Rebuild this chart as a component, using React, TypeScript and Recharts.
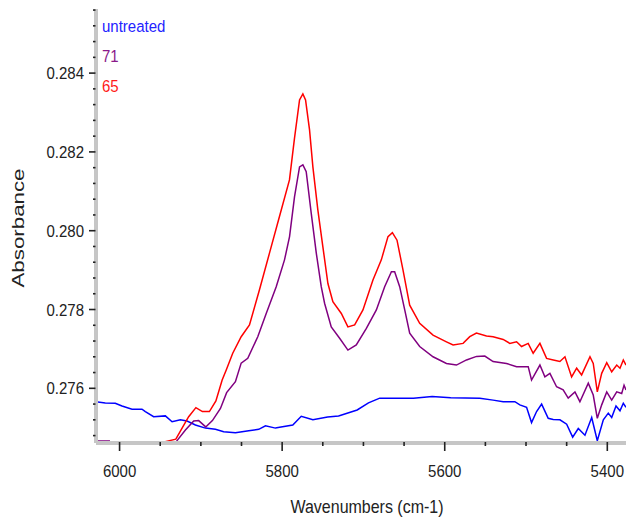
import { LineChart, Line, XAxis, YAxis, Legend } from 'recharts';

// [wavenumber (cm-1), absorbance]
const untreated: [number, number][] = [
  [6029, 0.27566], [6017.6, 0.27563], [6005.3, 0.27562], [5997, 0.27555], [5984.7, 0.27547],
  [5972.4, 0.27547], [5968.3, 0.27541], [5958.1, 0.27528], [5943.7, 0.2753], [5935.4, 0.27515],
  [5925.2, 0.2752], [5917, 0.27517], [5906.7, 0.27507], [5894.4, 0.27499], [5882.1, 0.27496],
  [5871.9, 0.2749], [5857.5, 0.27487], [5841.1, 0.27492], [5828.8, 0.27496], [5820.5, 0.27505],
  [5808.2, 0.27499], [5803.2, 0.27501], [5786.9, 0.27507], [5776.5, 0.27529], [5762.2, 0.2752],
  [5744.1, 0.27527], [5730.6, 0.2753], [5707.7, 0.27545], [5693.8, 0.27563], [5680, 0.27575],
  [5638.5, 0.27575], [5615.5, 0.27579], [5592.6, 0.27576], [5556.8, 0.27575], [5540.5, 0.2757],
  [5528.1, 0.27566], [5513.7, 0.27566], [5507.6, 0.27558], [5499.3, 0.27552], [5493.2, 0.27513],
  [5487, 0.27541], [5480.8, 0.2756], [5472.7, 0.27524], [5466.5, 0.27521], [5458.3, 0.2752],
  [5450, 0.27509], [5442.6, 0.27476], [5435.7, 0.27498], [5427.5, 0.27481], [5419.2, 0.27526],
  [5412.3, 0.27467], [5404.9, 0.2752], [5398.8, 0.27537], [5394.6, 0.27526], [5389.3, 0.27555],
  [5384.4, 0.27543], [5380.3, 0.27562], [5377, 0.27552],
];

const sample71: [number, number][] = [
  [6029, 0.27466], [6012.7, 0.27466], [6011.5, 0.274], [5963, 0.2738], [5930.5, 0.27464],
  [5919, 0.27494], [5908.8, 0.27517], [5902.7, 0.27518], [5894, 0.27502], [5885.8, 0.27518],
  [5875.9, 0.27549], [5868.3, 0.27589], [5857.5, 0.27617], [5850.4, 0.27664], [5842.3, 0.27676],
  [5830, 0.27731], [5819.6, 0.2779], [5807.3, 0.27858], [5797.1, 0.27926], [5790.9, 0.27985],
  [5784.8, 0.28086], [5778.6, 0.28162], [5774.5, 0.28167], [5770.4, 0.2815], [5764.2, 0.28044],
  [5758, 0.27943], [5751.9, 0.27858], [5747.8, 0.27816], [5739.6, 0.27756], [5729.3, 0.27727],
  [5719.1, 0.27697], [5708.8, 0.2771], [5696.4, 0.27752], [5684.1, 0.27799], [5673.9, 0.27858],
  [5665.6, 0.27896], [5661.6, 0.27896], [5655.4, 0.27858], [5649.2, 0.27799], [5643.1, 0.2774],
  [5630.8, 0.27706], [5614.4, 0.2768], [5597.9, 0.27663], [5585.6, 0.27659], [5573.2, 0.27672],
  [5560.9, 0.27681], [5550.7, 0.27682], [5540.5, 0.27668], [5524, 0.27663], [5511.6, 0.27655],
  [5497.3, 0.27655], [5493.2, 0.27621], [5482.9, 0.27659], [5476.8, 0.27629], [5470.6, 0.27638],
  [5462.4, 0.27604], [5454.3, 0.27596], [5448.1, 0.27575], [5439.8, 0.27591], [5433.7, 0.27566],
  [5423.4, 0.27613], [5417.3, 0.27583], [5412.3, 0.27524], [5406.9, 0.27558], [5400.7, 0.27591],
  [5394.6, 0.2757], [5388.4, 0.27591], [5382.3, 0.27587], [5379.4, 0.27608], [5377, 0.27596],
];

const sample65: [number, number][] = [
  [6029, 0.2738], [5963.3, 0.2739], [5945, 0.2744], [5943.3, 0.27465], [5930.8, 0.27471],
  [5923.1, 0.27499], [5915, 0.27528], [5906.1, 0.27551], [5898.1, 0.27541], [5889.5, 0.27541],
  [5881.5, 0.27568], [5873.8, 0.27621], [5868.9, 0.27646], [5860.8, 0.27689], [5850.4, 0.27731],
  [5840.2, 0.27761], [5827.9, 0.2785], [5815.6, 0.27943], [5803.3, 0.28036], [5791, 0.28129],
  [5784.8, 0.28235], [5778.6, 0.28332], [5774.5, 0.28347], [5771.2, 0.28332], [5766.3, 0.28256],
  [5762.2, 0.28162], [5756.1, 0.28053], [5749.9, 0.27959], [5743.7, 0.27866], [5737.6, 0.2782],
  [5727.2, 0.2779], [5719.1, 0.27756], [5710.8, 0.27761], [5700.6, 0.27799], [5688.3, 0.27875],
  [5678, 0.27926], [5669.8, 0.27985], [5664.4, 0.27995], [5658.7, 0.27976], [5651.3, 0.279],
  [5643.1, 0.27811], [5630.8, 0.27765], [5614.4, 0.27735], [5597.9, 0.27718], [5589.7, 0.2771],
  [5577.4, 0.27714], [5569.2, 0.27731], [5561, 0.2774], [5548.6, 0.27733], [5540.5, 0.27731],
  [5528.1, 0.27724], [5519.9, 0.27714], [5511.6, 0.27718], [5505.5, 0.27706], [5497.3, 0.27714],
  [5491.2, 0.27689], [5482.9, 0.27714], [5474.7, 0.27676], [5466.5, 0.27672], [5458.3, 0.27668],
  [5452.1, 0.2768], [5443.9, 0.27629], [5437.7, 0.27651], [5431.6, 0.27634], [5421.3, 0.2768],
  [5417.3, 0.27663], [5412.3, 0.27591], [5406.9, 0.27638], [5400.7, 0.27665], [5394.6, 0.27642],
  [5388.4, 0.27659], [5384.4, 0.27651], [5380.3, 0.27672], [5377, 0.27659],
];

const series = [
  { name: 'untreated', color: '#0000ff', text: '#2323ff', points: untreated },
  { name: '71', color: '#800080', text: '#8a1a8a', points: sample71 },
  { name: '65', color: '#ff0000', text: '#ff1a1a', points: sample65 },
];

// minor ticks every 50 cm-1, labels every 200
const xTicks = Array.from({ length: 13 }, (_, i) => 5400 + i * 50);
// minor ticks every 0.0004, labels every 0.002
const yTicks = Array.from({ length: 28 }, (_, i) => +(0.2748 + i * 0.0004).toFixed(4));

const FONT = '"Liberation Sans", Arial, sans-serif';
const AXIS_GRAY = '#c6c6c6';
const TICK_COLOR = '#222';
// the instrument software draws its text a little taller than wide
const STRETCH = 1.14;

function TallText({ x, y, anchor, size, children, fill = TICK_COLOR }: any) {
  return (
    <text
      transform={`translate(${x} ${y}) scale(1 ${STRETCH})`}
      textAnchor={anchor}
      fontSize={size}
      fontFamily={FONT}
      fill={fill}
    >
      {children}
    </text>
  );
}

function XTick(props: any) {
  const { x, y, payload } = props;
  const major = payload.value % 200 === 0;
  return (
    <g>
      <line x1={x} x2={x} y1={y - 1} y2={y + (major ? 8 : 3)} stroke={TICK_COLOR} strokeWidth={1.6} />
      {major && (
        <TallText x={x} y={y + 34} anchor="middle" size={15}>
          {payload.value}
        </TallText>
      )}
    </g>
  );
}

function YTick(props: any) {
  const { x, y, payload } = props;
  const major = Math.round(payload.value * 10000) % 20 === 0;
  return (
    <g>
      <line x1={x - (major ? 7 : 3)} x2={x - 0.5} y1={y} y2={y} stroke={TICK_COLOR} strokeWidth={1.6} />
      {major && (
        <TallText x={x - 12} y={y + 6} anchor="end" size={15}>
          {payload.value.toFixed(3)}
        </TallText>
      )}
    </g>
  );
}

function SeriesLegend(props: any) {
  const items = [...(props.payload || [])].sort(
    (a: any, b: any) =>
      series.findIndex(s => s.name === a.value) - series.findIndex(s => s.name === b.value)
  );
  return (
    <div style={{ fontFamily: FONT, fontSize: 15, lineHeight: '30px' }}>
      {items.map((entry: any) => {
        const s = series.find(item => item.name === entry.value);
        return (
          <div
            key={entry.value}
            style={{ color: s ? s.text : entry.color, transform: `scaleY(${STRETCH})` }}
          >
            {entry.value}
          </div>
        );
      })}
    </div>
  );
}

export default function App() {
  return (
    <div style={{ position: 'absolute', left: 0, top: 0, background: '#fff' }}>
      <LineChart width={626} height={523} margin={{ top: 9, right: 0, bottom: 0, left: 0 }}>
        <XAxis
          type="number"
          dataKey="w"
          domain={[5377, 6029]}
          reversed
          allowDataOverflow
          ticks={xTicks}
          interval={0}
          tick={<XTick />}
          tickLine={false}
          tickSize={0}
          tickMargin={0}
          height={80}
          axisLine={{ stroke: AXIS_GRAY, strokeWidth: 4 }}
          label={{
            content: () => (
              <TallText x={367} y={513} anchor="middle" size={16}>
                Wavenumbers (cm-1)
              </TallText>
            ),
          }}
        />
        <YAxis
          type="number"
          domain={[0.274612, 0.285627]}
          allowDataOverflow
          ticks={yTicks}
          interval={0}
          tick={<YTick />}
          tickLine={false}
          tickSize={0}
          tickMargin={0}
          width={96}
          axisLine={{ stroke: AXIS_GRAY, strokeWidth: 4 }}
          label={{
            content: () => (
              <text
                x={0}
                y={0}
                transform="translate(24 228) rotate(-90)"
                textAnchor="middle"
                fontSize={16}
                fontFamily={FONT}
                fill={TICK_COLOR}
                textLength={119}
                lengthAdjust="spacingAndGlyphs"
              >
                Absorbance
              </text>
            ),
          }}
        />
        <Legend
          layout="vertical"
          align="center"
          verticalAlign="middle"
          content={<SeriesLegend />}
          wrapperStyle={{ left: 102, top: 11, width: 'auto', height: 'auto' }}
        />
        {series.map(s => (
          <Line
            key={s.name}
            name={s.name}
            data={s.points.map(([w, a]) => ({ w, a }))}
            dataKey="a"
            type="linear"
            stroke={s.color}
            strokeWidth={1.5}
            dot={false}
            activeDot={false}
            isAnimationActive={false}
          />
        ))}
      </LineChart>
    </div>
  );
}
